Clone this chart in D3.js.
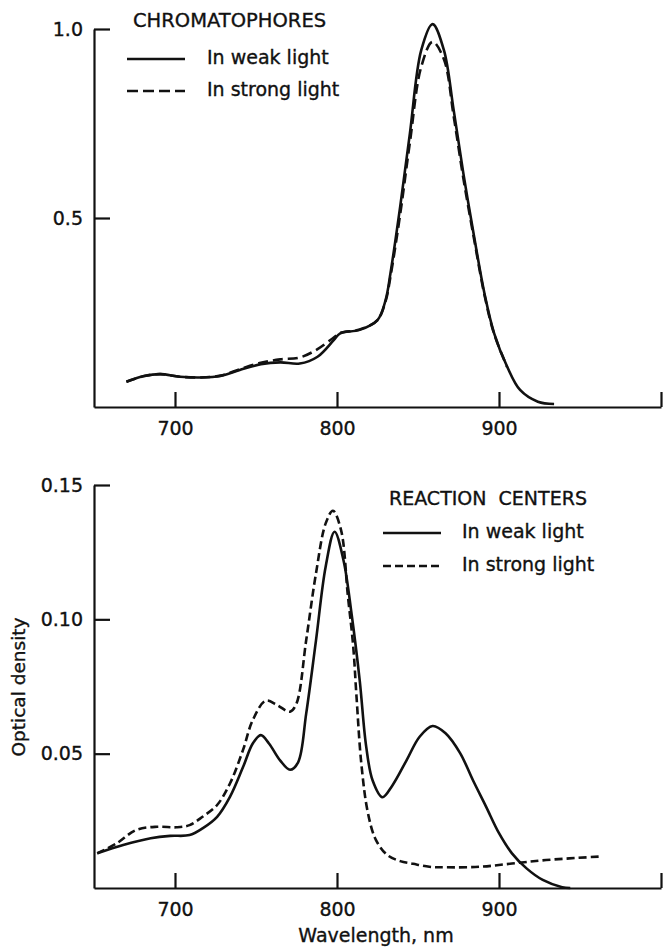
<!DOCTYPE html>
<html>
<head>
<meta charset="utf-8">
<script src="https://d3js.org/d3.v7.min.js"></script>
<style>
  body { margin: 0; background: #fff; }
  svg { display: block; font-family: "DejaVu Sans", sans-serif; }
  svg text { white-space: pre; stroke: #111; stroke-width: 0.35px; }
</style>
</head>
<body>
<div id="chart"></div>
<script>
// absorption spectra, values

// top panel - chromatophores
var chromWave   = [670, 681, 691, 703, 716, 728, 740, 753, 765, 777, 788, 798, 802, 814, 825, 830, 833, 839, 845, 852, 859, 866, 872, 878, 885, 891, 897, 905, 913, 924, 934];
var chromWeak   = [0.067, 0.082, 0.087, 0.080, 0.078, 0.082, 0.098, 0.113, 0.118, 0.115, 0.133, 0.177, 0.195, 0.204, 0.230, 0.283, 0.354, 0.530, 0.724, 0.944, 1.013, 0.944, 0.786, 0.618, 0.442, 0.301, 0.195, 0.107, 0.045, 0.014, 0.008];
var chromStrongWave = [670, 681, 691, 703, 716, 728, 740, 753, 765, 777, 788, 798, 802, 814, 825, 830, 833, 839, 845, 852, 859, 866, 872, 878, 885, 891, 897, 905];
var chromStrong = [0.067, 0.082, 0.087, 0.080, 0.078, 0.083, 0.100, 0.117, 0.126, 0.131, 0.153, 0.184, 0.196, 0.205, 0.230, 0.280, 0.345, 0.510, 0.700, 0.900, 0.966, 0.920, 0.770, 0.605, 0.435, 0.297, 0.193, 0.106];

// bottom panel - reaction centers
var rcWeakWave = [652, 668, 685, 697, 709, 717, 726, 734, 742, 748, 753, 758, 765, 771, 776, 781, 787, 793, 798.5, 804, 809, 814, 818, 822, 828, 834, 843, 851, 859, 867, 876, 884, 892, 900, 908, 917, 927, 939, 944];
var rcWeak     = [0.0129, 0.016, 0.0185, 0.0194, 0.0197, 0.0222, 0.0265, 0.034, 0.045, 0.0538, 0.0569, 0.0538, 0.0474, 0.044, 0.0468, 0.065, 0.092, 0.1196, 0.1326, 0.122, 0.102, 0.0774, 0.0527, 0.040, 0.0338, 0.038, 0.0476, 0.0563, 0.0603, 0.0576, 0.0502, 0.040, 0.0303, 0.0204, 0.0129, 0.0073, 0.003, 0.0003, 0];
var rcStrongWave = [652, 664, 676, 689, 701, 709, 717, 726, 734, 742, 748, 756, 763, 771, 775, 781, 787, 793, 797.5, 802.5, 806.7, 810, 812, 815, 819, 824, 831, 839, 847, 857, 867, 888, 908, 929, 962];
var rcStrong   = [0.0129, 0.0166, 0.0216, 0.0228, 0.0226, 0.0234, 0.0265, 0.0309, 0.039, 0.0514, 0.0625, 0.0697, 0.0681, 0.0656, 0.0687, 0.0923, 0.117, 0.1357, 0.1404, 0.1332, 0.1088, 0.090, 0.0716, 0.0464, 0.0282, 0.0179, 0.0123, 0.0100, 0.0090, 0.0079, 0.0077, 0.0079, 0.0091, 0.0104, 0.0117];

// ticks
var xTicks = [700, 800, 900, 1000];
var xTickLabels = ["700", "800", "900", ""];
var topYTicks = [0.5, 1.0];
var bottomYTicks = [0.05, 0.10, 0.15];

var topLegend = ["CHROMATOPHORES", "In weak light", "In strong light"];
var bottomLegend = ["REACTION  CENTERS", "In weak light", "In strong light"];

var W = 665, H = 951;
var svg = d3.select("#chart").append("svg")
  .attr("width", W)
  .attr("height", H);

// both panels share the wavelength scale
var x = d3.scaleLinear().domain([650, 1000]).range([94, 661]);

var yTop = d3.scaleLinear().domain([0, 1.0]).range([407, 29]);
var yBot = d3.scaleLinear().domain([0, 0.15]).range([888, 485]);

function zip(a, b) {
  return a.map(function(d, i) { return [d, b[i]]; });
}

function drawAxes(y, ticks, fmt) {
  var xAxis = d3.axisBottom(x)
    .tickValues(xTicks)
    .tickFormat(function(d, i) { return xTickLabels[i]; })
    .tickSizeInner(-15)
    .tickSizeOuter(0)
    .tickPadding(15);
  var yAxis = d3.axisLeft(y)
    .tickValues(ticks)
    .tickFormat(d3.format(fmt))
    .tickSizeInner(-16)
    .tickSizeOuter(0)
    .tickPadding(11);

  var gx = svg.append("g")
    .attr("transform", "translate(0," + y.range()[0] + ")")
    .call(xAxis);
  var gy = svg.append("g")
    .attr("transform", "translate(" + x.range()[0] + ",0)")
    .call(yAxis);

  [gx, gy].forEach(function(g) {
    g.selectAll("path, line").attr("stroke", "#111").attr("stroke-width", 2.2);
    g.selectAll("text")
      .attr("fill", "#111")
      .style("font-size", "19px")
      .style("font-family", "'DejaVu Sans', sans-serif");
  });
}

function drawLine(y, xs, ys, dash) {
  var line = d3.line()
    .x(function(d) { return x(d[0]); })
    .y(function(d) { return y(d[1]); })
    .curve(d3.curveCatmullRom.alpha(0.5));
  svg.append("path")
    .datum(zip(xs, ys))
    .attr("d", line)
    .attr("fill", "none")
    .attr("stroke", "#111")
    .attr("stroke-width", 2.6)
    .attr("stroke-dasharray", dash);
}

function drawLegend(labels, lx, tx, rows, dash, titleSize) {
  svg.append("text")
    .attr("x", lx + 6)
    .attr("y", rows[0])
    .attr("dy", "0.36em")
    .style("font-size", titleSize + "px")
    .attr("fill", "#111")
    .text(labels[0]);
  for (var i = 1; i < 3; i++) {
    svg.append("line")
      .attr("x1", lx).attr("x2", lx + 58)
      .attr("y1", rows[i] + 2).attr("y2", rows[i] + 2)
      .attr("stroke", "#111")
      .attr("stroke-width", 2.4)
      .attr("stroke-dasharray", i == 2 ? dash : null);
    svg.append("text")
      .attr("x", tx)
      .attr("y", rows[i])
      .attr("dy", "0.36em")
      .style("font-size", "19px")
      .attr("fill", "#111")
      .text(labels[i]);
  }
}

// top panel
drawAxes(yTop, topYTicks, ".1f");
drawLine(yTop, chromWave, chromWeak, null);
drawLine(yTop, chromStrongWave, chromStrong, "10,5");
drawLegend(topLegend, 127, 207, [20, 57, 89], "11,5", 19.5);

// bottom panel
drawAxes(yBot, bottomYTicks, ".2f");
drawLine(yBot, rcWeakWave, rcWeak, null);
drawLine(yBot, rcStrongWave, rcStrong, "8,4");
drawLegend(bottomLegend, 383, 462, [498, 531, 564], "8,4", 19);

// axis titles
svg.append("text")
  .attr("transform", "translate(18,687) rotate(-90)")
  .attr("text-anchor", "middle")
  .attr("dy", "0.36em")
  .style("font-size", "18.5px")
  .attr("fill", "#111")
  .text("Optical density");

svg.append("text")
  .attr("x", 376)
  .attr("y", 935)
  .attr("dy", "0.36em")
  .attr("text-anchor", "middle")
  .style("font-size", "19px")
  .attr("fill", "#111")
  .text("Wavelength, nm");
</script>
</body>
</html>
